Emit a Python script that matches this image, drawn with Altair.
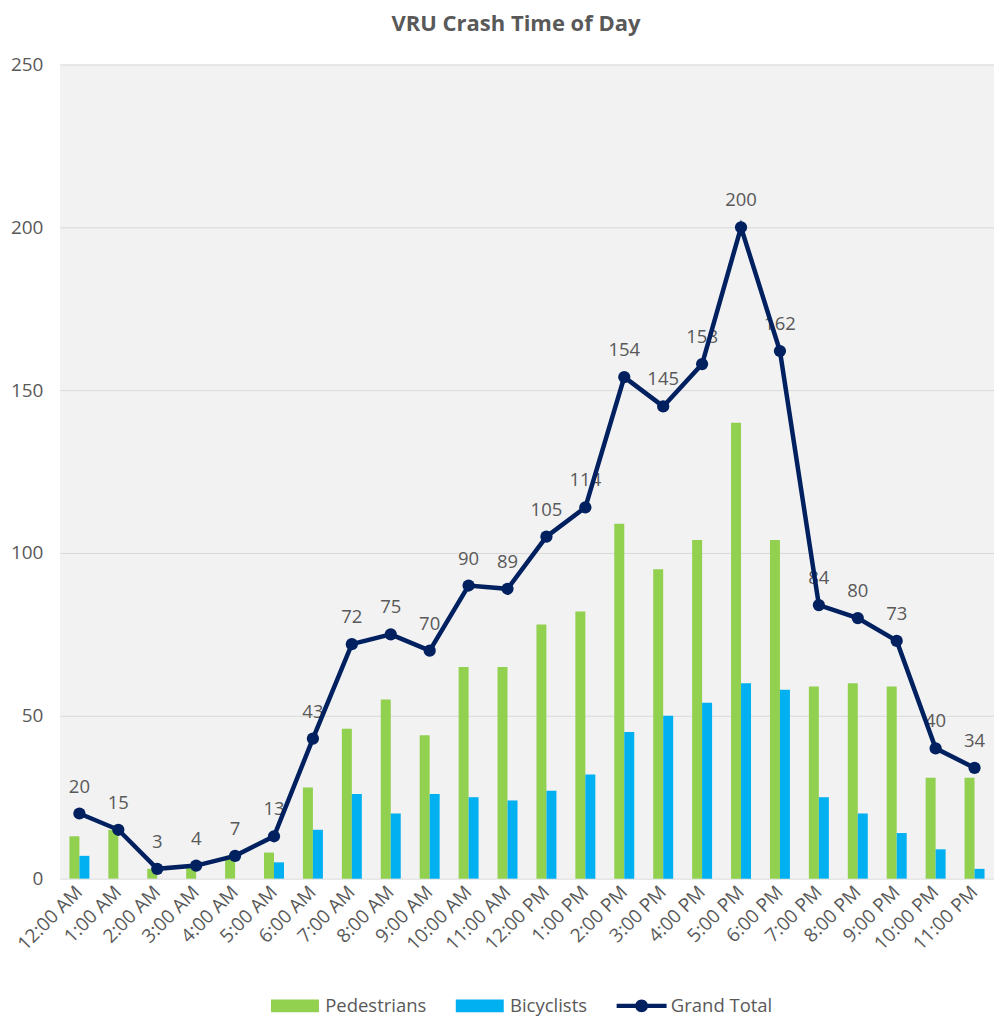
import altair as alt
import pandas as pd

hours = ["12:00 AM", "1:00 AM", "2:00 AM", "3:00 AM", "4:00 AM", "5:00 AM",
         "6:00 AM", "7:00 AM", "8:00 AM", "9:00 AM", "10:00 AM", "11:00 AM",
         "12:00 PM", "1:00 PM", "2:00 PM", "3:00 PM", "4:00 PM", "5:00 PM",
         "6:00 PM", "7:00 PM", "8:00 PM", "9:00 PM", "10:00 PM", "11:00 PM"]
pedestrians = [13, 15, 3, 4, 7, 8, 28, 46, 55, 44, 65, 65, 78, 82, 109, 95, 104, 140, 104, 59, 60, 59, 31, 31]
bicyclists = [7, 0, 0, 0, 0, 5, 15, 26, 20, 26, 25, 24, 27, 32, 45, 50, 54, 60, 58, 25, 20, 14, 9, 3]
grand_total = [20, 15, 3, 4, 7, 13, 43, 72, 75, 70, 90, 89, 105, 114, 154, 145, 158, 200, 162, 84, 80, 73, 40, 34]

series_names = ["Pedestrians", "Bicyclists", "Grand Total"]
series_colors = ["#92D050", "#00B0F0", "#002060"]

FONT = "Open Sans"
GREY = "#595959"
NAVY = "#002060"

bars_df = pd.DataFrame(
    [{"hour": h, "series": "Pedestrians", "value": v} for h, v in zip(hours, pedestrians)]
    + [{"hour": h, "series": "Bicyclists", "value": v} for h, v in zip(hours, bicyclists)]
)
total_df = pd.DataFrame({"hour": hours, "value": grand_total, "series": "Grand Total"})
all_df = pd.concat([bars_df, total_df], ignore_index=True)

# legend symbol outlines (unit = 8 px at symbolSize 256)
rect_path = "M-1,-0.8H5V0.8H-1Z"
line_path = ("M-1,-0.28H5.25V0.28H-1Z "
             "M1.3125,0A0.8125,0.8125 0 1,1 2.9375,0A0.8125,0.8125 0 1,1 1.3125,0Z")

legend = alt.Legend(
    title=None, orient="none", direction="horizontal",
    legendX=210, legendY=933,
    symbolSize=256, symbolOpacity=1, symbolStrokeWidth=0,
    labelOffset=37, columnPadding=28,
    labelFont=FONT, labelFontSize=18.5, labelColor=GREY,
)

color_enc = alt.Color("series:N", scale=alt.Scale(domain=series_names, range=series_colors), legend=legend)
shape_enc = alt.Shape("series:N", scale=alt.Scale(domain=series_names, range=[rect_path, rect_path, line_path]), legend=legend)

x_enc = alt.X("hour:N", sort=hours,
              scale=alt.Scale(paddingInner=0.487, paddingOuter=0.2435),
              axis=alt.Axis(title=None, labelAngle=-45, labelAlign="right", labelBaseline="middle",
                            domain=False, ticks=False, labelPadding=10,
                            labelFont=FONT, labelFontSize=19, labelColor=GREY))
y_enc = alt.Y("value:Q", scale=alt.Scale(domain=[0, 250], nice=False),
              axis=alt.Axis(title=None, values=[0, 50, 100, 150, 200, 250], grid=True,
                            gridColor="#D9D9D9", gridWidth=1, domain=False, ticks=False,
                            labelPadding=17, labelFont=FONT, labelFontSize=19, labelColor=GREY))

bars = alt.Chart(bars_df).mark_bar().encode(
    x=x_enc, y=y_enc,
    xOffset=alt.XOffset("series:N", sort=["Pedestrians", "Bicyclists"],
                        scale=alt.Scale(domain=["Pedestrians", "Bicyclists"], paddingInner=0, paddingOuter=0)),
    color=color_enc,
)

legend_pts = alt.Chart(all_df).mark_point(filled=True, opacity=0).encode(
    x=alt.X("hour:N", sort=hours), y="value:Q", color=color_enc, shape=shape_enc,
)

labels = alt.Chart(total_df).mark_text(dy=-27, font=FONT, fontSize=18.5, color=GREY).encode(
    x=alt.X("hour:N", sort=hours), y="value:Q", text="value:Q",
)

line = alt.Chart(total_df).mark_line(color=NAVY, strokeWidth=4.5).encode(
    x=alt.X("hour:N", sort=hours), y="value:Q",
)
pts = alt.Chart(total_df).mark_circle(color=NAVY, size=150, opacity=1).encode(
    x=alt.X("hour:N", sort=hours), y="value:Q",
)

chart = alt.layer(bars, legend_pts, labels, line, pts).properties(
    width=935, height=815,
    title=alt.TitleParams("VRU Crash Time of Day", font=FONT, fontSize=22, fontWeight="bold",
                          color=GREY, anchor="middle", offset=19, dx=-11),
    padding={"left": 2, "top": 5, "right": 0, "bottom": 0},
).configure_view(fill="#F2F2F2", strokeWidth=0)

chart.save("out.html", embed_options={"renderer": "svg", "actions": False})
